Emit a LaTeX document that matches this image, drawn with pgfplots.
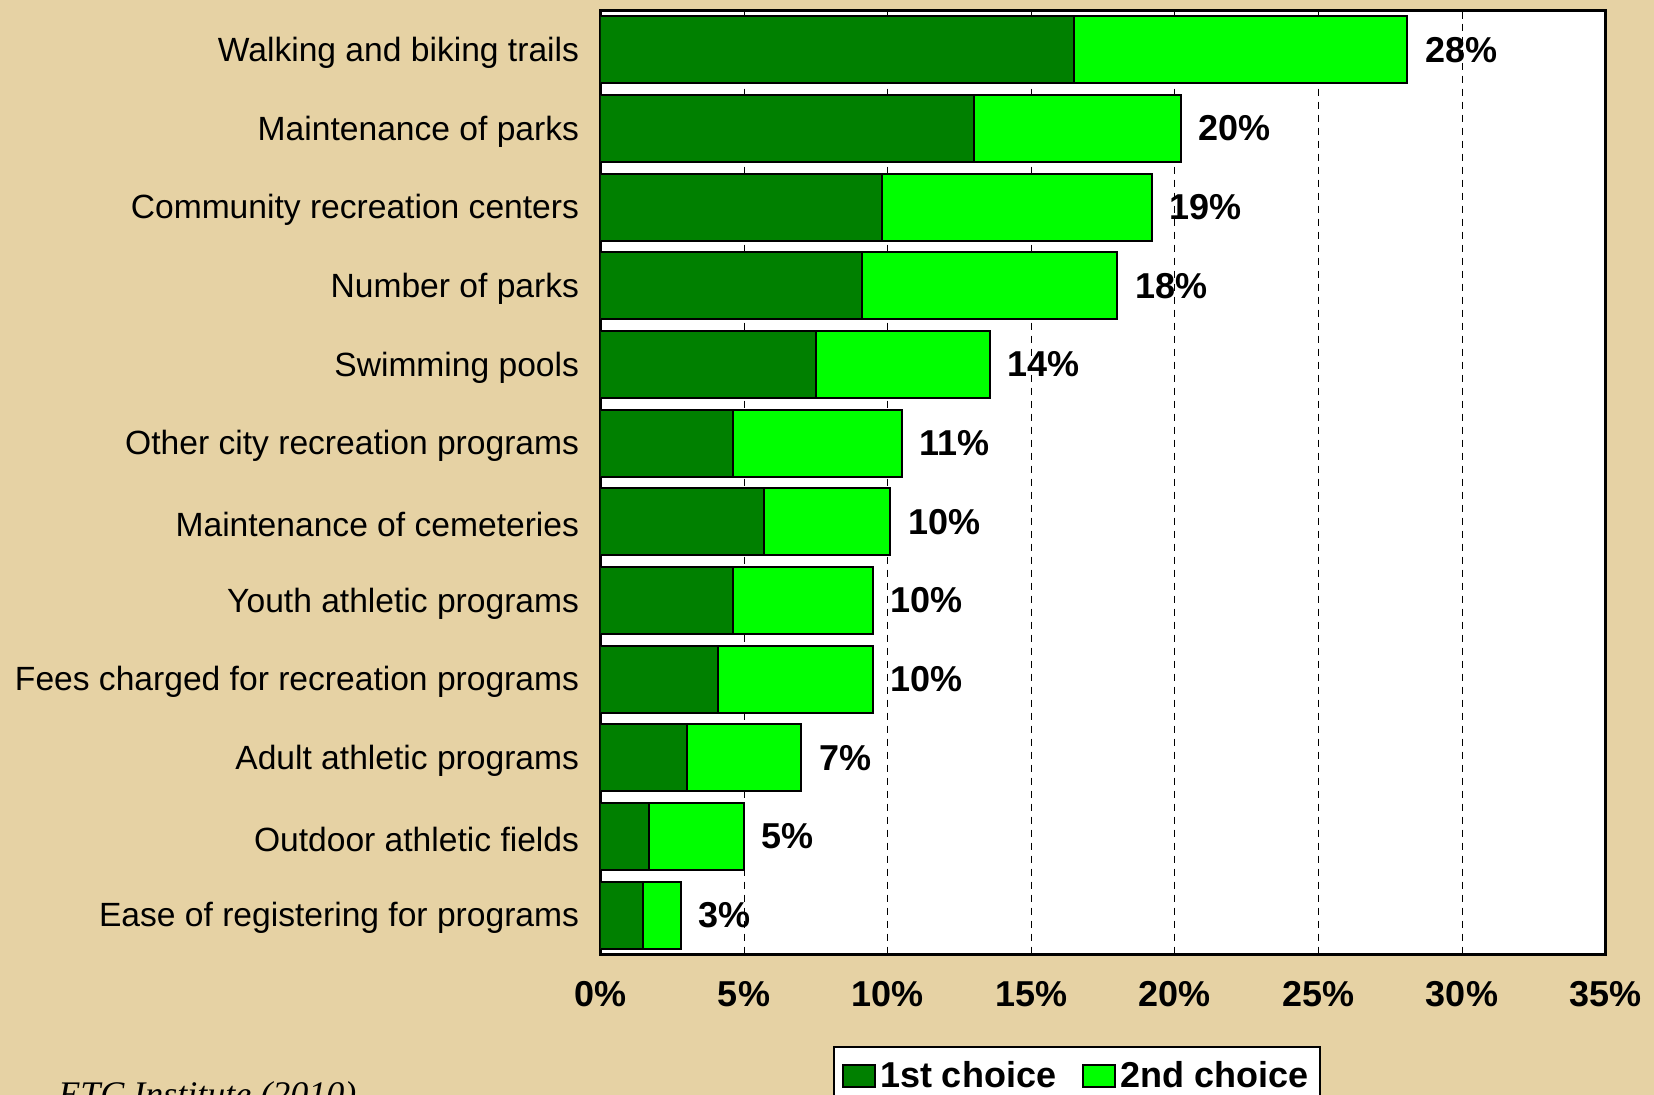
\documentclass[border=0pt]{standalone}
\usepackage{pgfplots}
\pgfplotsset{compat=1.18}
\usepackage{fontspec}
\setmainfont{Liberation Sans}
\newfontfamily\serifit{Liberation Serif}
\definecolor{parch}{RGB}{230,210,164}
\definecolor{first}{RGB}{0,128,0}
\definecolor{second}{RGB}{0,255,0}

% first = 1st choice, total = 1st + 2nd choice
\pgfplotstableread{
y first total label
0  16.5 28.1 28\%
1  13.0 20.2 20\%
2  9.8  19.2 19\%
3  9.1  18.0 18\%
4  7.5  13.55 14\%
5  4.6  10.5 11\%
6  5.7  10.1 10\%
7  4.6  9.5  10\%
8  4.1  9.5  10\%
9  3.0  7.0  7\%
10 1.7  5.0  5\%
11 1.5  2.8  3\%
}\choices

\begin{document}
\begin{tikzpicture}
\fill[parch] (0,0) rectangle (827pt,547.5pt);
\begin{axis}[
  at={(300.2pt,70.2pt)}, anchor=south west,
  scale only axis, width=502.6pt, height=472pt,
  xbar, bar shift=0pt, bar width=33.5pt,
  y dir=reverse, ymin=-0.5, ymax=11.5,
  xmin=0, xmax=35,
  axis background/.style={fill=white},
  axis line style={line width=1.4pt},
  xtick={0,5,...,35},
  xticklabels={0\%,5\%,10\%,15\%,20\%,25\%,30\%,35\%},
  xtick pos=both, tick align=inside, major tick length=4pt,
  xtick style={black, line width=0.5pt},
  xticklabel style={font=\bfseries\fontsize{18}{20}\selectfont, inner sep=0pt, yshift=-13pt},
  xmajorgrids, grid style={black, line width=0.5pt, dash pattern=on 3.5pt off 3pt},
  ytick={0,...,11},
  yticklabels={Walking and biking trails, Maintenance of parks, Community recreation centers,
    Number of parks, Swimming pools, Other city recreation programs, Maintenance of cemeteries,
    Youth athletic programs, Fees charged for recreation programs, Adult athletic programs,
    Outdoor athletic fields, Ease of registering for programs},
  ytick style={draw=none},
  yticklabel style={font=\fontsize{16.8}{20}\selectfont, inner sep=0pt, xshift=-10.5pt, yshift=-1.5pt},
  legend style={at={(0.2314,-0.0968)}, anchor=north west, draw=black, line width=1pt,
    font=\bfseries\fontsize{18}{20}\selectfont, inner xsep=4pt, inner ysep=5pt,
    legend cell align=left, /tikz/every even column/.append style={column sep=11pt}},
  legend columns=2,
  legend image code/.code={\draw[#1, line width=1pt] (0pt,-5.5pt) rectangle (16pt,5.5pt);},
]
\addlegendimage{fill=first, draw=black}
\addlegendentry{1st choice}
\addlegendimage{fill=second, draw=black}
\addlegendentry{2nd choice\hspace{4pt}}
\addplot[fill=second, draw=black, line width=1pt, forget plot,
  nodes near coords, point meta=explicit symbolic,
  every node near coord/.append style={anchor=west, xshift=5pt, black,
    font=\bfseries\fontsize{18}{20}\selectfont}]
  table[x=total, y=y, meta=label] {\choices};
\addplot[fill=first, draw=black, line width=1pt, forget plot] table[x=first, y=y] {\choices};
\end{axis}
\node[anchor=base west, font=\serifit\itshape\fontsize{18}{20}\selectfont, inner sep=0pt] at (29pt,-6pt) {ETC Institute (2010)};
\pgfresetboundingbox
\useasboundingbox (0,0) rectangle (827pt,547.5pt);
\end{tikzpicture}
\end{document}
